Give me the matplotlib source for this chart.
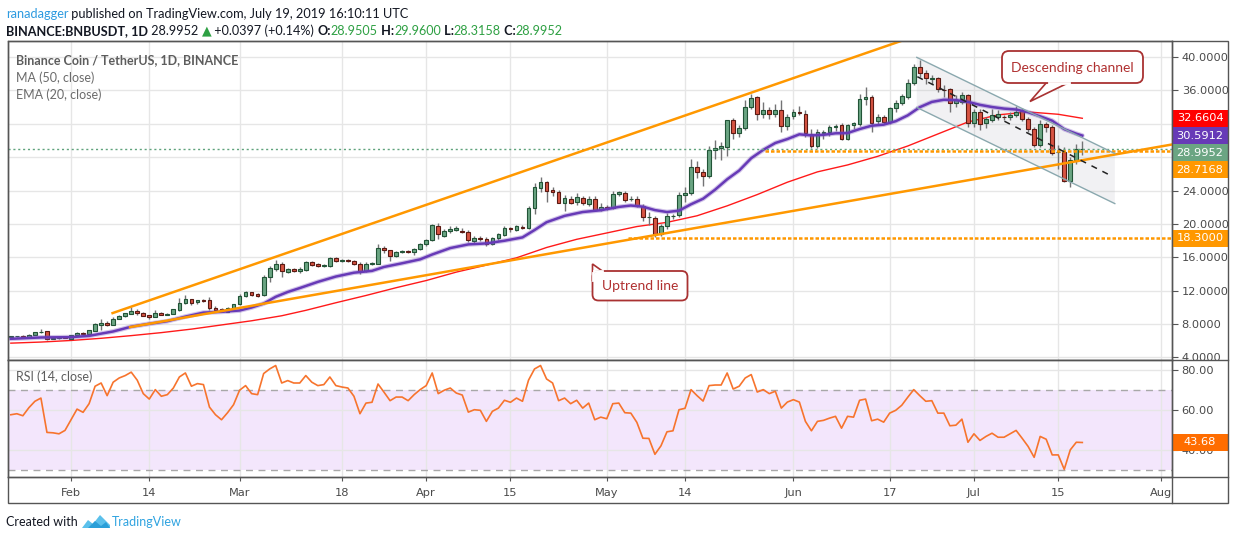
import matplotlib
matplotlib.use("Agg")
import matplotlib.pyplot as plt
import matplotlib.dates as mdates
from matplotlib.patches import Polygon, Rectangle, FancyBboxPatch
import numpy as np
import pandas as pd

plt.rcParams["font.family"] = ["Lato", "DejaVu Sans"]

W, H = 1234, 540

# BNB/USDT daily candles, 2019-01-22 .. 2019-07-19
first_day = "2019-01-22"
opens = [
    6.50, 6.52, 6.60, 6.46, 6.72, 7.00, 7.12, 6.26, 6.34, 6.36,
    6.26, 6.64, 6.96, 6.84, 7.18, 7.90, 8.18, 7.94, 8.64, 8.98,
    9.24, 9.60, 9.34, 9.04, 8.88, 9.36, 9.12, 9.24, 9.72, 10.56,
    10.96, 10.60, 10.84, 10.84, 9.96, 9.76, 9.48, 9.96,
    10.36, 11.36, 11.80, 11.56, 11.48, 13.64, 14.60, 15.16, 14.24, 14.56,
    14.36, 14.52, 15.40, 15.16, 15.00, 15.00, 15.96, 15.60, 15.60, 15.60,
    15.24, 14.36, 15.24, 15.24, 17.16, 16.84, 16.20, 16.64, 16.72, 16.58, 16.98,
    17.56, 18.02, 19.76, 18.60, 19.16, 19.28, 19.20, 19.04, 18.00, 18.36,
    18.24, 17.60, 18.28, 18.72, 19.44, 19.32, 19.68, 19.56, 21.96, 24.36,
    25.00, 24.04, 23.88, 22.56, 23.04, 22.60, 23.16, 22.44, 23.04, 21.66,
    22.08, 21.96, 23.64, 23.76, 22.96, 23.04, 22.18, 20.80, 20.76, 18.84,
    19.72, 20.92, 21.04, 23.52, 23.72, 26.84, 26.24, 25.76, 28.92, 29.16,
    29.24, 32.40, 30.84, 31.44, 34.04, 35.16, 33.12, 33.64, 33.12, 33.64, 31.72,
    32.96, 33.36, 33.16, 30.72, 29.32, 30.84, 30.96, 31.56, 31.84, 30.12,
    31.84, 31.96, 34.92, 35.24, 32.36, 32.76, 32.24, 33.84, 34.52, 35.24,
    36.92, 38.76, 38.12, 37.32, 37.44, 36.10, 36.12, 34.44, 34.64, 35.44,
    32.12, 33.44, 32.04, 32.44, 32.76, 32.80, 32.76, 33.04, 33.52, 32.52,
    31.32, 29.44, 31.92, 31.56, 28.60, 28.64, 25.12, 27.64, 28.9505,
]
highs = [
    6.58, 6.62, 6.64, 6.80, 7.06, 7.36, 7.22, 6.42, 6.44, 6.46,
    6.74, 7.04, 7.04, 7.30, 8.10, 8.60, 8.40, 8.90, 9.10, 9.36,
    10.00, 9.84, 9.46, 9.10, 9.64, 9.44, 9.30, 9.86, 11.16, 11.44,
    11.02, 10.90, 11.04, 11.24, 10.16, 9.90, 10.04, 10.44,
    11.64, 11.96, 11.90, 11.70, 13.90, 15.00, 15.64, 15.40, 14.70, 14.70,
    14.80, 15.60, 15.56, 15.30, 15.16, 16.10, 16.04, 15.80, 15.76, 15.70,
    15.40, 15.40, 15.44, 17.56, 17.40, 16.90, 16.80, 16.86, 16.84, 17.10, 17.70,
    18.20, 20.00, 20.10, 19.40, 19.70, 19.80, 19.50, 19.30, 18.60, 18.50,
    18.40, 18.44, 18.90, 19.70, 19.60, 19.90, 19.90, 22.10, 24.90, 25.60,
    25.20, 24.40, 24.10, 23.50, 23.30, 23.70, 23.40, 23.30, 23.30, 22.50,
    22.30, 24.00, 24.00, 23.90, 23.30, 23.30, 22.40, 21.44, 21.00, 20.00,
    21.30, 21.20, 23.80, 24.40, 27.84, 27.60, 26.60, 29.30, 30.10, 29.80,
    32.50, 32.70, 31.80, 34.80, 35.60, 35.30, 34.60, 34.00, 34.40, 34.80, 33.20,
    33.80, 34.10, 33.60, 31.40, 31.40, 31.20, 31.90, 32.00, 32.10, 32.00,
    32.20, 35.60, 36.40, 35.40, 33.20, 33.10, 34.00, 34.80, 35.60, 37.40,
    39.20, 39.70, 38.40, 37.80, 37.60, 36.60, 36.30, 35.40, 35.80, 35.60,
    33.80, 33.80, 32.80, 33.80, 33.60, 33.10, 33.40, 34.10, 33.90, 32.80,
    31.60, 32.40, 32.20, 31.80, 29.40, 29.20, 28.00, 29.60, 29.96,
]
lows = [
    6.44, 6.46, 6.44, 6.40, 6.68, 6.92, 6.12, 6.16, 6.26, 6.28,
    6.20, 6.58, 6.76, 6.78, 7.12, 7.30, 7.72, 7.90, 8.56, 8.90,
    9.16, 9.12, 8.94, 8.64, 8.80, 9.06, 9.06, 9.18, 9.60, 10.40,
    10.28, 10.40, 10.64, 9.64, 9.56, 9.40, 9.40, 9.88,
    10.30, 11.20, 11.40, 11.26, 11.40, 13.06, 14.40, 13.60, 14.10, 14.20,
    14.10, 14.36, 15.00, 14.90, 14.90, 14.90, 15.44, 15.40, 15.44, 15.10,
    14.00, 14.20, 15.10, 15.20, 16.50, 15.60, 16.10, 16.50, 16.50, 16.30, 16.90,
    17.40, 17.90, 18.20, 18.40, 18.90, 19.10, 18.90, 17.80, 17.60, 18.00,
    17.40, 17.50, 18.10, 18.60, 19.00, 19.10, 19.40, 19.40, 21.20, 23.80,
    22.60, 23.40, 22.50, 21.60, 22.40, 22.30, 22.30, 22.20, 21.50, 21.50,
    21.70, 21.80, 23.40, 22.60, 22.70, 22.00, 20.40, 19.84, 18.40, 18.60,
    19.40, 20.60, 20.80, 22.60, 23.50, 25.50, 24.60, 25.50, 27.80, 27.70,
    28.20, 30.20, 30.40, 31.20, 33.80, 32.50, 32.70, 32.60, 32.80, 31.00, 31.30,
    32.60, 33.00, 30.40, 29.10, 29.10, 30.20, 30.50, 31.10, 30.00, 30.00,
    31.40, 31.70, 34.20, 31.00, 31.90, 32.00, 32.00, 33.40, 34.20, 35.00,
    36.60, 37.60, 36.80, 36.80, 35.80, 35.20, 33.40, 34.00, 34.40, 31.60,
    31.60, 31.20, 31.50, 32.20, 32.50, 32.40, 32.40, 32.80, 32.30, 31.00,
    29.20, 29.20, 31.00, 28.30, 26.60, 25.00, 24.40, 27.20, 28.3158,
]
closes = [
    6.52, 6.58, 6.48, 6.74, 7.00, 7.10, 6.24, 6.36, 6.38, 6.34,
    6.66, 6.98, 6.82, 7.24, 7.96, 8.18, 7.92, 8.66, 9.02, 9.28,
    9.62, 9.32, 9.00, 8.84, 9.36, 9.12, 9.24, 9.76, 10.56, 10.96,
    10.56, 10.84, 10.82, 9.96, 9.68, 9.52, 9.96, 10.36,
    11.36, 11.80, 11.52, 11.32, 13.68, 14.68, 15.16, 14.36, 14.56, 14.36,
    14.56, 15.40, 15.12, 15.00, 15.04, 15.96, 15.60, 15.62, 15.58, 15.24,
    14.36, 15.24, 15.32, 17.16, 16.84, 16.20, 16.64, 16.72, 16.60, 17.02, 17.64,
    18.04, 19.88, 18.76, 19.12, 19.40, 19.52, 19.00, 18.04, 18.36, 18.20,
    17.60, 18.36, 18.76, 19.48, 19.42, 19.72, 19.52, 21.96, 24.40, 25.00,
    23.96, 23.84, 22.56, 23.08, 22.56, 23.20, 22.46, 23.04, 21.64, 22.08,
    21.96, 23.64, 23.78, 22.92, 23.02, 22.20, 20.80, 20.84, 18.84, 19.72,
    20.92, 20.98, 23.52, 23.76, 26.84, 26.24, 25.76, 28.92, 29.16, 29.32,
    32.40, 30.84, 31.44, 33.96, 35.04, 33.12, 33.64, 33.12, 33.64, 31.72, 32.84,
    33.36, 33.24, 30.84, 29.32, 30.96, 30.96, 31.56, 31.76, 30.16, 31.84,
    32.04, 34.92, 35.24, 32.04, 32.76, 32.24, 33.84, 34.52, 35.32, 36.92,
    38.76, 38.12, 37.44, 37.44, 36.12, 36.04, 34.44, 34.84, 35.44, 32.12,
    33.44, 31.96, 32.56, 33.04, 33.16, 32.76, 33.04, 33.44, 32.52, 31.32,
    29.44, 31.92, 31.56, 28.52, 28.64, 25.12, 27.64, 29.04, 28.9952,
]
rsi = [
    57.5, 58.0, 57.0, 61.0, 64.2, 65.8, 48.7, 48.5, 48.0, 49.7,
    55.0, 60.3, 58.7, 63.0, 71.7, 73.3, 67.0, 73.7, 75.8, 77.0,
    78.7, 74.7, 68.0, 65.3, 70.0, 66.7, 67.5, 70.8, 76.3, 78.3,
    71.7, 73.0, 72.5, 61.3, 57.5, 55.0, 58.5, 62.5,
    69.7, 72.0, 68.0, 67.5, 78.0, 80.3, 82.0, 73.3, 74.5, 73.3,
    73.3, 77.0, 73.7, 72.0, 72.5, 76.3, 72.0, 71.3, 70.8, 66.7,
    58.0, 63.3, 63.7, 72.8, 68.7, 64.5, 66.3, 66.3, 64.5, 67.5, 70.0,
    72.0, 78.3, 68.0, 69.7, 70.8, 68.3, 67.3, 58.8, 60.0, 59.7,
    54.2, 59.2, 60.8, 64.7, 63.7, 65.8, 64.2, 74.7, 80.3, 82.0,
    75.3, 73.3, 64.5, 65.8, 63.0, 64.7, 60.8, 63.3, 55.0, 56.3,
    55.5, 63.0, 63.3, 58.5, 58.3, 53.7, 45.8, 45.7, 37.8, 42.0,
    49.0, 49.5, 60.0, 60.7, 70.0, 67.0, 64.3, 72.0, 72.3, 72.3,
    78.3, 70.3, 71.7, 75.8, 77.5, 68.8, 70.0, 68.0, 69.2, 60.8, 63.8,
    65.0, 63.8, 54.2, 49.5, 54.2, 54.7, 55.8, 56.7, 50.8, 56.7,
    56.3, 64.7, 65.3, 54.5, 55.3, 53.8, 58.3, 59.7, 62.2, 66.2,
    70.0, 67.0, 64.2, 64.5, 58.3, 58.3, 52.0, 52.3, 55.3, 43.8,
    48.0, 44.7, 46.7, 48.3, 46.3, 46.3, 48.0, 49.7, 45.8, 41.7,
    36.3, 46.7, 45.3, 37.5, 37.5, 30.3, 40.0, 43.8, 43.68,
]

# moving averages, days counted from 1 Feb 2019
ema20_days = [-10, -5, 0, 3, 5, 7, 10, 13, 16, 19, 22, 25, 28, 30, 32, 34, 36, 38, 41, 44,
              47, 50, 52, 55, 58, 60, 63, 66, 69, 72, 75, 77, 79, 82, 85, 88, 91, 93, 95, 97,
              99, 101, 103, 105, 107, 109, 111, 113, 115, 117, 119, 121, 123, 125, 127, 129,
              131, 133, 135, 137, 139, 141, 143, 145, 147, 149, 151, 153, 155, 157, 159, 161,
              163, 165, 167, 168]
ema20 = [6.24, 6.40, 6.44, 6.59, 6.86, 7.12, 7.69, 8.04, 8.35, 8.90, 9.38, 9.47, 9.63, 9.99,
         10.46, 11.27, 11.85, 12.32, 13.06, 13.70, 14.16, 14.38, 14.85, 15.29, 15.76, 16.34,
         17.11, 17.55, 17.67, 17.99, 18.39, 19.27, 20.21, 20.97, 21.43, 21.64, 22.04, 22.21,
         22.07, 21.66, 21.43, 21.59, 22.36, 23.02, 24.11, 25.35, 26.40, 27.88, 28.88, 29.70,
         30.17, 30.74, 30.61, 30.68, 30.86, 30.89, 31.37, 31.77, 31.90, 32.31, 33.01, 33.99,
         34.62, 34.88, 34.84, 34.63, 34.27, 34.01, 33.82, 33.71, 33.38, 32.90, 32.37, 31.36,
         30.82, 30.5912]
ma50_days = [-10, -5, 0, 5, 10, 15, 20, 25, 30, 35, 39, 44, 49, 54, 59, 64, 69, 74, 79, 84,
             89, 94, 99, 104, 109, 114, 119, 124, 129, 134, 139, 144, 149, 154, 159, 164, 168]
ma50 = [5.72, 5.85, 6.04, 6.30, 6.62, 6.98, 7.40, 7.90, 8.40, 9.00, 9.65, 10.56, 11.43, 12.36,
        13.22, 14.23, 15.07, 15.94, 17.18, 18.16, 18.92, 19.69, 20.19, 20.98, 22.17, 23.52,
        25.00, 26.24, 27.07, 28.10, 29.34, 30.78, 32.22, 33.07, 33.42, 33.14, 32.6604]

# drawings on the chart: (days from 1 Feb, price)
upper_trend = ([6.9, 140.0], [9.32, 42.45])
lower_trend = ([9.8, 182.9], [7.64, 29.52])
support_levels = [28.7168, 18.30]
support_start = [115.3, 92.5]
channel_top = ([140.5, 173.4], [39.96, 28.44])
channel_bottom = ([140.5, 173.4], [33.96, 22.44])
channel_mid = ([140.6, 172.6], [37.64, 25.84])

tick_dates = ["2019-02-01", "2019-02-14", "2019-03-01", "2019-03-18", "2019-04-01",
              "2019-04-15", "2019-05-01", "2019-05-14", "2019-06-01", "2019-06-17",
              "2019-07-01", "2019-07-15", "2019-08-01"]
tick_labels = ["Feb", "14", "Mar", "18", "Apr", "15", "May", "14", "Jun", "17", "Jul", "15", "Aug"]

base = mdates.datestr2num("2019-02-01")


def day(d):
    return base + np.asarray(d, dtype=float)


fig = plt.figure(figsize=(W / 100, H / 100), dpi=100)
fig.patch.set_facecolor("white")


def px_axes(x0, y0, x1, y1):
    return fig.add_axes([x0 / W, 1 - y1 / H, (x1 - x0) / W, (y1 - y0) / H])


ax = px_axes(8, 41, 1172, 359.5)
ax2 = px_axes(8, 359.5, 1172, 477)

axis_font = dict(family="DejaVu Sans", fontsize=8.2)
for a in (ax, ax2):
    a.set_xlim(day(-10.47), day(182.9))
    a.set_xticks(mdates.datestr2num(tick_dates))
    a.grid(True, color="#e6e6e6", lw=1)
    a.set_axisbelow(True)
    for s in a.spines.values():
        s.set_color("#555555")
        s.set_linewidth(1)
    a.yaxis.tick_right()
    a.tick_params(axis="y", length=4, color="#555555", labelcolor="#4a4a4a", pad=3)

# ---- price panel ----
ymin, ymax = 3.76, 41.92
ax.set_ylim(ymin, ymax)
ax.tick_params(axis="x", length=0, labelbottom=False)

x = mdates.date2num(pd.date_range(first_day, periods=len(closes), freq="D"))
o, h, l, c = (np.array(v) for v in (opens, highs, lows, closes))
up = c >= o
body = np.maximum(np.abs(c - o), 0.06)
bottom = np.minimum(o, c)

# descending channel
chan = Polygon([(day(channel_top[0][0]), channel_top[1][0]), (day(channel_top[0][1]), channel_top[1][1]),
                (day(channel_bottom[0][1]), channel_bottom[1][1]), (day(channel_bottom[0][0]), channel_bottom[1][0])],
               closed=True, facecolor="#b2b5be", alpha=0.18, edgecolor="none", zorder=1)
ax.add_patch(chan)

ax.plot(day(ma50_days), ma50, color="#ff1a1a", lw=1.0, zorder=2)
ax.vlines(x, l, h, color="#737375", lw=1, zorder=3)
ax.bar(x[up], body[up], bottom=bottom[up], width=0.62, color="#6ba583",
       edgecolor="#225437", lw=0.8, zorder=4)
ax.bar(x[~up], body[~up], bottom=bottom[~up], width=0.62, color="#d75442",
       edgecolor="#5b1a13", lw=0.8, zorder=4)
ax.plot(day(ema20_days), ema20, color="#7e57c2", lw=3.4, alpha=0.35, zorder=5,
        solid_capstyle="round")
ax.plot(day(ema20_days), ema20, color="#673ab7", lw=1.8, zorder=5)

ax.axhline(closes[-1], color="#5fa37c", lw=1, ls=(0, (1.5, 2)), zorder=5)
for lvl, st in zip(support_levels, support_start):
    ax.hlines(lvl, day(st), day(182.9), color="#ff9800", lw=1.8, ls=(0, (1.4, 0.8)), zorder=6)
ax.plot(day(upper_trend[0]), upper_trend[1], color="#ff9800", lw=1.8, zorder=6)
ax.plot(day(lower_trend[0]), lower_trend[1], color="#ff9800", lw=1.8, zorder=6)
for edge in (channel_top, channel_bottom):
    ax.plot(day(edge[0]), edge[1], color="#8aa8ae", lw=1, zorder=6)
ax.plot(day(channel_mid[0]), channel_mid[1], color="#222222", lw=1.1, ls=(0, (4, 4)), zorder=6)

# value tags on the price scale (stacked so they do not overlap)
ppu = (359.5 - 41) / (ymax - ymin)
box_h = 17 / ppu
tag_w = 56 / 1164
tags = [(ma50[-1], "#ff0000"), (ema20[-1], "#673ab7"), (closes[-1], "#6ba583"),
        (support_levels[0], "#ff9800"), (support_levels[1], "#ff9800")]
prev = np.inf
tag_pos = []
for v, col in sorted(tags, key=lambda t: -t[0]):
    pos = min(v, prev - box_h)
    prev = pos
    tag_pos.append(pos)
    tr = ax.get_yaxis_transform()
    ax.add_patch(Rectangle((1.0, pos - box_h / 2), tag_w, box_h, transform=tr, clip_on=False,
                           facecolor=col, edgecolor="none", zorder=10))
    ax.text(1.0 + tag_w / 2, pos, f"{v:.4f}", transform=tr, ha="center", va="center",
            color="white", clip_on=False, zorder=11, **axis_font)

# price scale labels; the ones hidden behind a tag are left blank, as on the chart
yt = np.arange(4, 41, 4)
ax.set_yticks(yt)
ylab = []
for v in yt:
    hidden = any(abs(v - p) < 0.75 * box_h for p in tag_pos)
    ylab.append("" if hidden else f"{v:.4f}")
ax.set_yticklabels(ylab, **axis_font)

# ---- RSI panel ----
ax2.set_ylim(26.5, 85)
ax2.set_yticks([40, 60, 80])
ax2.set_yticklabels(["40.00", "60.00", "80.00"], **axis_font)
ax2.set_xticklabels(tick_labels, color="#4a4a4a", **axis_font)
ax2.tick_params(axis="x", length=3, color="#555555", pad=5)
ax2.axhspan(30, 70, color="#f3e6fc", lw=0, zorder=0.5)
for lv in (70, 30):
    ax2.axhline(lv, color="#a8a8a8", lw=1, ls=(0, (5, 4)), zorder=1)
ax2.plot(x, rsi, color="#f7742d", lw=1.2, zorder=3)
rppu = (477 - 359.5) / (85 - 26.5)
rb = 17 / rppu
tr2 = ax2.get_yaxis_transform()
ax2.add_patch(Rectangle((1.0, rsi[-1] - rb / 2), tag_w, rb, transform=tr2, clip_on=False,
                        facecolor="#ff6d00", edgecolor="none", zorder=10))
ax2.text(1.0 + tag_w / 2, rsi[-1], f"{rsi[-1]:.2f}", transform=tr2, ha="center", va="center",
         color="white", clip_on=False, zorder=11, **axis_font)

# ---- overlay in pixel coordinates: frame, header, notes ----
ov = fig.add_axes([0, 0, 1, 1])
ov.set_xlim(0, W)
ov.set_ylim(H, 0)
ov.axis("off")
ov.patch.set_alpha(0)

frame = "#555555"
ov.add_patch(Rectangle((8, 41), 1220, 462, fill=False, edgecolor=frame, lw=1))
ov.plot([8, 1228], [359.5, 359.5], color=frame, lw=1)
ov.plot([8, 1228], [477, 477], color=frame, lw=1)
ov.plot([1172, 1172], [41, 503], color=frame, lw=1)


def chain(pieces, x0, y0, size):
    t = None
    for s, kw in pieces:
        if t is None:
            t = ov.text(x0, y0, s, va="baseline", ha="left", fontsize=size, **kw)
        else:
            t = ov.annotate(s, xy=(1, 0), xycoords=t, xytext=(0, 0), textcoords="offset points",
                            va="bottom", ha="left", fontsize=size, **kw)
    return t


black = dict(color="#131722")
bold = dict(color="#131722", weight="bold")
green = dict(color="#2ea043")
chain([("ranadagger", dict(color="#2e9be0")),
       (" published on TradingView.com, July 19, 2019 16:10:11 UTC", black)], 6, 18, 9.15)
chain([("BINANCE:BNBUSDT, 1D", bold), (" 28.9952 ", black),
       ("\u25b2", dict(color="#2ea043", family=["DejaVu Sans"])),
       (" +0.0397 (+0.14%) ", black), ("O:", bold), ("28.9505", green),
       (" H:", bold), ("29.9600", green), (" L:", bold), ("28.3158", green),
       (" C:", bold), ("28.9952", green)], 6, 35, 9.1)

ov.text(16, 64, "Binance Coin / TetherUS, 1D, BINANCE", color="#5d5d5d", weight="bold",
        fontsize=9, va="baseline")
ov.text(16, 82, "MA (50, close)", color="#6b6b6b", fontsize=9, va="baseline")
ov.text(16, 99, "EMA (20, close)", color="#6b6b6b", fontsize=9, va="baseline")
ov.text(16, 381, "RSI (14, close)", color="#5d5d5d", fontsize=9, va="baseline")

note_edge = "#a93232"
note_text = "#b03030"
# "Descending channel" callout
ov.add_patch(Polygon([(1047, 82), (1070, 82), (1030, 101.5)], closed=True,
                     facecolor="white", edgecolor=note_edge, lw=1.2, zorder=5))
ov.add_patch(FancyBboxPatch((1002, 51), 141, 32, boxstyle="round,pad=0,rounding_size=7",
                            facecolor="white", edgecolor=note_edge, lw=1.3, zorder=6))
ov.plot([1048.5, 1068.5], [83, 83], color="white", lw=2, zorder=7)
ov.text(1072.5, 67.5, "Descending channel", color=note_text, fontsize=10, ha="center",
        va="center", zorder=8)
# "Uptrend line" callout
ov.add_patch(Polygon([(592.5, 264), (603, 271.5), (592.5, 281)], closed=True,
                     facecolor="white", edgecolor=note_edge, lw=1.2, zorder=5))
ov.add_patch(FancyBboxPatch((592.5, 271), 95, 29.5, boxstyle="round,pad=0,rounding_size=6",
                            facecolor="white", edgecolor=note_edge, lw=1.3, zorder=6))
ov.plot([593.2, 593.2], [272.5, 280], color="white", lw=2, zorder=7)
ov.plot([593.5, 602], [271, 271], color="white", lw=2, zorder=7)
ov.text(640, 286, "Uptrend line", color=note_text, fontsize=10, ha="center", va="center",
        zorder=8)

# footer
ov.text(6, 526, "Created with", color="#131722", fontsize=9, va="baseline")
ov.add_patch(Polygon([(82, 528), (88, 520), (93, 524), (100, 515), (110, 525), (110, 528)],
                     closed=True, facecolor="#5bc0eb", edgecolor="none"))
ov.add_patch(Polygon([(88, 528), (95, 521), (101, 526), (106, 522), (110, 528)],
                     closed=True, facecolor="#2a9fd8", edgecolor="none"))
ov.text(112, 526, "TradingView", color="#2fa3e0", fontsize=9, va="baseline")

fig.savefig("out.png", dpi=100, facecolor="white")
